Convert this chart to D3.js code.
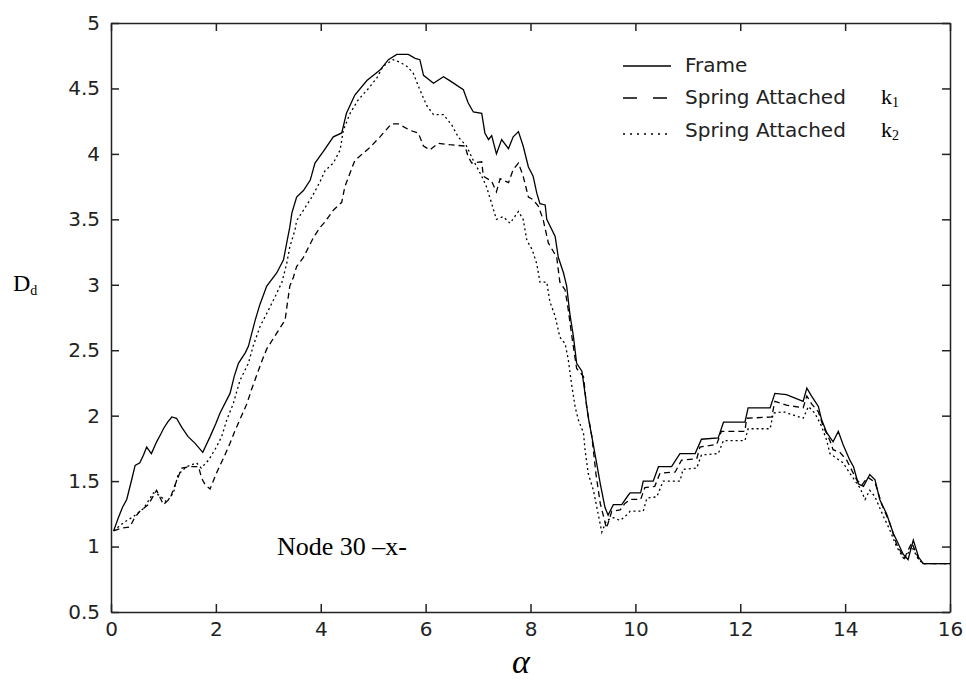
<!DOCTYPE html>
<html>
<head>
<meta charset="utf-8">
<script src="https://cdn.jsdelivr.net/npm/d3@7"></script>
<style>
  body { margin: 0; background: #fff; }
  .tick text { font-family: "DejaVu Sans", sans-serif; font-size: 20px; fill: #222; }
  .serif { font-family: "Liberation Serif", "Times New Roman", serif; fill: #000; }
</style>
</head>
<body>
<div id="chart"></div>
<script>
// data: [alpha, Dd] pairs for each curve
const frameData = [[0.05,1.12],[0.14,1.22],[0.22,1.30],[0.30,1.36],[0.40,1.52],[0.46,1.62],[0.55,1.64],[0.62,1.70],[0.68,1.76],[0.77,1.71],[0.87,1.80],[0.95,1.86],[1.0,1.90],[1.08,1.95],[1.16,1.99],[1.25,1.98],[1.35,1.91],[1.47,1.84],[1.6,1.79],[1.75,1.72],[1.89,1.84],[2.0,1.94],[2.08,2.02],[2.27,2.17],[2.35,2.30],[2.43,2.40],[2.56,2.48],[2.62,2.53],[2.75,2.73],[2.84,2.85],[2.97,2.99],[3.16,3.09],[3.29,3.19],[3.36,3.34],[3.41,3.44],[3.45,3.55],[3.54,3.67],[3.67,3.72],[3.80,3.80],[3.89,3.93],[4.05,4.02],[4.24,4.13],[4.40,4.16],[4.49,4.31],[4.65,4.45],[4.88,4.56],[5.13,4.64],[5.29,4.72],[5.45,4.76],[5.67,4.76],[5.80,4.73],[5.89,4.72],[5.96,4.60],[6.15,4.54],[6.34,4.59],[6.46,4.56],[6.72,4.49],[6.81,4.39],[6.91,4.32],[7.07,4.31],[7.13,4.16],[7.20,4.11],[7.26,4.14],[7.35,4.00],[7.45,4.11],[7.58,4.04],[7.67,4.13],[7.77,4.17],[7.86,4.06],[7.96,3.90],[8.05,3.83],[8.12,3.70],[8.18,3.62],[8.28,3.61],[8.31,3.50],[8.47,3.37],[8.53,3.21],[8.63,3.09],[8.69,2.99],[8.75,2.78],[8.82,2.60],[8.88,2.40],[8.98,2.34],[9.04,2.17],[9.10,1.99],[9.17,1.84],[9.26,1.64],[9.33,1.48],[9.42,1.30],[9.48,1.24],[9.58,1.32],[9.74,1.32],[9.86,1.39],[9.90,1.41],[10.1,1.41],[10.15,1.50],[10.34,1.50],[10.44,1.61],[10.69,1.61],[10.85,1.71],[11.14,1.71],[11.26,1.82],[11.58,1.83],[11.68,1.95],[12.09,1.95],[12.15,2.06],[12.57,2.06],[12.66,2.17],[12.88,2.16],[13.20,2.11],[13.27,2.21],[13.36,2.15],[13.49,2.07],[13.55,1.97],[13.65,1.87],[13.77,1.80],[13.87,1.88],[13.96,1.78],[14.09,1.66],[14.16,1.61],[14.25,1.48],[14.35,1.46],[14.47,1.55],[14.57,1.51],[14.66,1.36],[14.79,1.25],[14.92,1.10],[14.98,1.05],[15.11,0.94],[15.20,0.90],[15.30,1.05],[15.40,0.92],[15.49,0.87],[16.0,0.87]];

const springK1Data = [[0.05,1.12],[0.20,1.14],[0.36,1.15],[0.45,1.22],[0.55,1.27],[0.71,1.32],[0.87,1.43],[1.00,1.32],[1.13,1.37],[1.22,1.47],[1.35,1.60],[1.51,1.61],[1.67,1.61],[1.73,1.52],[1.80,1.47],[1.89,1.44],[2.01,1.56],[2.15,1.68],[2.27,1.79],[2.36,1.88],[2.59,2.09],[2.68,2.20],[2.87,2.41],[2.97,2.51],[3.16,2.63],[3.32,2.73],[3.35,2.82],[3.41,2.99],[3.48,3.06],[3.54,3.14],[3.67,3.21],[3.86,3.36],[3.99,3.44],[4.08,3.48],[4.24,3.57],[4.40,3.63],[4.46,3.75],[4.65,3.95],[4.94,4.05],[5.13,4.13],[5.35,4.23],[5.48,4.23],[5.70,4.18],[5.86,4.16],[5.96,4.06],[6.08,4.03],[6.24,4.08],[6.46,4.07],[6.75,4.06],[6.81,3.98],[6.88,3.93],[7.07,3.94],[7.10,3.83],[7.26,3.79],[7.35,3.71],[7.42,3.81],[7.58,3.78],[7.67,3.88],[7.77,3.93],[7.86,3.83],[7.96,3.67],[8.05,3.65],[8.15,3.60],[8.24,3.50],[8.34,3.32],[8.50,3.21],[8.56,3.02],[8.66,2.96],[8.72,2.81],[8.78,2.63],[8.88,2.36],[9.01,2.30],[9.07,2.07],[9.17,1.84],[9.25,1.55],[9.33,1.33],[9.45,1.14],[9.55,1.27],[9.71,1.28],[9.80,1.33],[9.90,1.36],[10.1,1.36],[10.18,1.45],[10.37,1.46],[10.47,1.56],[10.76,1.57],[10.88,1.66],[11.17,1.67],[11.23,1.76],[11.55,1.78],[11.64,1.88],[12.09,1.88],[12.12,1.98],[12.60,1.99],[12.66,2.11],[12.88,2.08],[13.20,2.06],[13.27,2.15],[13.36,2.09],[13.49,2.03],[13.58,1.92],[13.71,1.81],[13.77,1.74],[13.90,1.72],[14.03,1.66],[14.22,1.51],[14.32,1.47],[14.43,1.53],[14.57,1.49],[14.70,1.32],[14.85,1.18],[14.98,1.02],[15.13,0.91],[15.27,1.03],[15.40,0.91],[15.49,0.87],[16.0,0.87]];

const springK2Data = [[0.05,1.12],[0.23,1.18],[0.43,1.23],[0.62,1.29],[0.81,1.41],[0.93,1.39],[1.06,1.34],[1.19,1.41],[1.28,1.55],[1.44,1.61],[1.63,1.64],[1.72,1.60],[1.86,1.66],[2.01,1.76],[2.11,1.84],[2.21,1.97],[2.33,2.09],[2.46,2.27],[2.62,2.40],[2.71,2.53],[2.84,2.68],[2.97,2.78],[3.13,2.91],[3.26,3.02],[3.35,3.16],[3.41,3.29],[3.51,3.42],[3.54,3.49],[3.67,3.57],[3.83,3.67],[3.99,3.79],[4.08,3.87],[4.24,3.93],[4.37,4.03],[4.43,4.18],[4.56,4.31],[4.71,4.41],[4.91,4.50],[5.07,4.58],[5.19,4.67],[5.38,4.72],[5.51,4.70],[5.64,4.67],[5.76,4.62],[5.89,4.49],[6.02,4.37],[6.15,4.30],[6.34,4.30],[6.50,4.22],[6.62,4.13],[6.78,4.06],[6.91,3.95],[7.07,3.83],[7.16,3.75],[7.26,3.62],[7.35,3.50],[7.48,3.52],[7.61,3.47],[7.77,3.56],[7.86,3.50],[7.93,3.34],[8.03,3.27],[8.12,3.16],[8.18,3.02],[8.31,3.02],[8.37,2.87],[8.47,2.76],[8.56,2.60],[8.66,2.55],[8.72,2.43],[8.78,2.25],[8.85,2.07],[8.91,1.97],[9.01,1.87],[9.04,1.74],[9.10,1.56],[9.20,1.43],[9.29,1.25],[9.36,1.11],[9.45,1.20],[9.58,1.22],[9.71,1.20],[9.86,1.25],[9.90,1.27],[10.15,1.27],[10.22,1.37],[10.41,1.38],[10.53,1.50],[10.85,1.50],[10.91,1.59],[11.17,1.60],[11.26,1.70],[11.58,1.71],[11.68,1.81],[12.09,1.81],[12.15,1.90],[12.57,1.90],[12.63,2.02],[12.82,2.03],[13.20,1.98],[13.30,2.07],[13.42,2.02],[13.55,1.92],[13.65,1.81],[13.71,1.71],[13.96,1.64],[14.09,1.56],[14.28,1.45],[14.38,1.36],[14.47,1.43],[14.57,1.38],[14.73,1.23],[14.85,1.13],[14.98,1.00],[15.13,0.90],[15.27,1.00],[15.40,0.90],[15.49,0.87],[16.0,0.87]];

const seriesNames = ["Frame", "Spring Attached", "Spring Attached"];
const seriesK = ["", "1", "2"];
const xTicks = [0, 2, 4, 6, 8, 10, 12, 14, 16];
const yTicks = [0.5, 1, 1.5, 2, 2.5, 3, 3.5, 4, 4.5, 5];

const margin = { top: 23, left: 111, right: 16, bottom: 77 },
  width = 966 - margin.left - margin.right,
  height = 689 - margin.top - margin.bottom;

const svg = d3.select("#chart")
  .append("svg")
    .attr("width", 966)
    .attr("height", 689)
  .append("g")
    .attr("transform", `translate(${margin.left},${margin.top})`);

const x = d3.scaleLinear().domain([0, 16]).range([0, width]);
const y = d3.scaleLinear().domain([0.5, 5]).range([height, 0]);

// axes, matlab style: ticks point inward on all four sides
svg.append("g")
  .attr("transform", `translate(0,${height})`)
  .call(d3.axisBottom(x).tickValues(xTicks).tickSize(-8).tickSizeOuter(0).tickPadding(10));
svg.append("g")
  .call(d3.axisLeft(y).tickValues(yTicks).tickSize(-8).tickSizeOuter(0).tickPadding(11)
    .tickFormat(d3.format("")));
svg.append("g")
  .call(d3.axisTop(x).tickValues(xTicks).tickSize(-8).tickSizeOuter(0).tickFormat(""));
svg.append("g")
  .attr("transform", `translate(${width},0)`)
  .call(d3.axisRight(y).tickValues(yTicks).tickSize(-8).tickSizeOuter(0).tickFormat(""));

svg.selectAll(".domain, .tick line").attr("stroke", "#222").attr("stroke-width", 1.5);

// curves
const line = d3.line().x(d => x(d[0])).y(d => y(d[1]));
const styles = [null, "6,4", "2,3"];
[frameData, springK1Data, springK2Data].forEach((data, i) => {
  svg.append("path")
    .datum(data)
    .attr("fill", "none")
    .attr("stroke", "#000")
    .attr("stroke-width", 1.3)
    .attr("stroke-dasharray", styles[i])
    .attr("d", line);
});

// legend
const legendDash = [null, "14,16", "2,5"];
const legendY = [43, 75, 111];
const legendTextY = [49, 81, 114];
seriesNames.forEach((name, i) => {
  svg.append("line")
    .attr("x1", 512).attr("x2", 560)
    .attr("y1", legendY[i]).attr("y2", legendY[i])
    .attr("stroke", "#000")
    .attr("stroke-width", 1.3)
    .attr("stroke-dasharray", legendDash[i]);
  svg.append("text")
    .attr("x", 574)
    .attr("y", legendTextY[i])
    .style("font-family", "'DejaVu Sans', sans-serif")
    .style("font-size", "20px")
    .style("fill", "#222")
    .text(name);
  if (seriesK[i]) {
    const t = svg.append("text")
      .attr("class", "serif")
      .attr("x", 770)
      .attr("y", legendTextY[i])
      .style("font-size", "22px")
      .text("k");
    t.append("tspan")
      .attr("dy", 3)
      .style("font-size", "14px")
      .text(seriesK[i]);
  }
});

// annotation
svg.append("text")
  .attr("class", "serif")
  .attr("x", 166)
  .attr("y", 532)
  .style("font-size", "26px")
  .text("Node 30 \u2013x-");

// y label
const yl = svg.append("text")
  .attr("class", "serif")
  .attr("x", -98)
  .attr("y", 268)
  .style("font-size", "24px")
  .text("D");
yl.append("tspan")
  .attr("dy", 4)
  .style("font-size", "14px")
  .text("d");

// x label
svg.append("text")
  .attr("class", "serif")
  .attr("x", 410)
  .attr("y", 650)
  .attr("text-anchor", "middle")
  .style("font-size", "34px")
  .style("font-style", "italic")
  .text("\u03b1");
</script>
</body>
</html>
